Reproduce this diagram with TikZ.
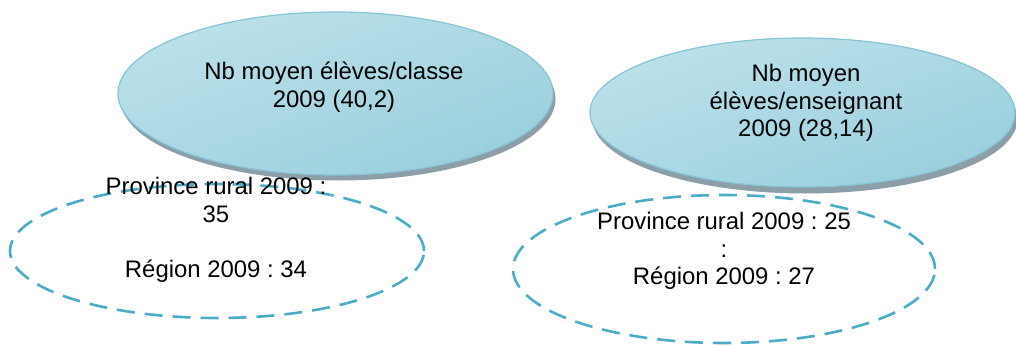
\documentclass[tikz,border=0pt]{standalone}
\usepackage{fontspec}
\setmainfont{Liberation Sans}
\usetikzlibrary{shapes.geometric}
\definecolor{dashblue}{HTML}{4BACC6}
\definecolor{filltop}{HTML}{BCE1EA}
\definecolor{fillbot}{HTML}{9ACFDD}
\definecolor{edgeblue}{HTML}{86C5D6}
\definecolor{shadowgray}{HTML}{8C9EA7}
\tikzset{
  dashell/.style={ellipse, draw=dashblue, line width=2.6pt, dash pattern=on 18pt off 10pt, inner sep=0pt},
  bigell/.style={ellipse, draw=edgeblue, line width=1.2pt, top color=filltop, bottom color=fillbot, shading angle=20, inner sep=0pt},
  shadowell/.style={ellipse, fill=shadowgray, inner sep=0pt},
  txt/.style={align=center, font=\fontsize{23.9}{27.5}\selectfont, text=black, inner sep=0pt}
}
\begin{document}
\frenchspacing
\begin{tikzpicture}[x=1pt,y=1pt]
\useasboundingbox (0,0) rectangle (1016,-345);
% dashed ellipses
\node[dashell, minimum width=414pt, minimum height=134pt] (d1) at (217,-251) {};
\node[dashell, minimum width=422pt, minimum height=148pt] (d2) at (724,-269) {};
% shadows
\node[shadowell, minimum width=435pt, minimum height=163pt] (s1) at (338,-99) {};
\node[shadowell, minimum width=425pt, minimum height=149pt] (s2) at (805,-119) {};
% filled ellipses
\node[bigell, minimum width=435pt, minimum height=163pt] (e1) at (335.5,-93.5) {};
\node[bigell, minimum width=425pt, minimum height=149pt] (e2) at (802.5,-112.5) {};
% texts
\node[txt] (t1) at (334,-87) {Nb moyen élèves/classe\\2009 (40,2)};
\node[txt] (t2) at (806,-103) {Nb moyen\\élèves/enseignant\\2009 (28,14)};
\node[txt] (t3) at (216,-230) {Province rural 2009 :\\35\\[27.5pt]Région 2009 : 34};
\node[txt] (t4) at (724,-251) {Province rural 2009 : 25\\:\\Région 2009 : 27};
\end{tikzpicture}
\end{document}
